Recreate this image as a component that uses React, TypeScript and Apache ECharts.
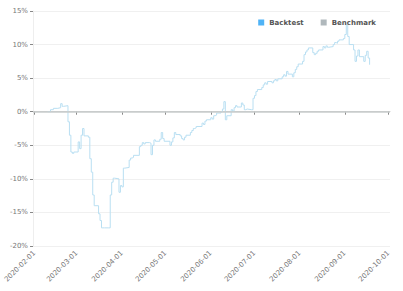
import React, { useEffect, useRef } from "react";
import * as echarts from "echarts";

const dates: string[] = [
  "2020-02-10","2020-02-12","2020-02-14","2020-02-17","2020-02-19","2020-02-20","2020-02-21",
  "2020-02-24","2020-02-25","2020-02-26","2020-02-27","2020-02-28",
  "2020-03-02","2020-03-03","2020-03-04","2020-03-05","2020-03-06",
  "2020-03-09","2020-03-10","2020-03-11","2020-03-12","2020-03-13",
  "2020-03-16","2020-03-17","2020-03-18","2020-03-19","2020-03-20",
  "2020-03-23","2020-03-24","2020-03-25","2020-03-26","2020-03-27",
  "2020-03-30","2020-03-31","2020-04-01","2020-04-02","2020-04-03",
  "2020-04-06","2020-04-07","2020-04-08","2020-04-09",
  "2020-04-13","2020-04-14","2020-04-15","2020-04-16","2020-04-17",
  "2020-04-20","2020-04-21","2020-04-22","2020-04-23","2020-04-24",
  "2020-04-27","2020-04-28","2020-04-29","2020-04-30",
  "2020-05-04","2020-05-05","2020-05-06","2020-05-07","2020-05-08",
  "2020-05-11","2020-05-12","2020-05-13","2020-05-14","2020-05-15",
  "2020-05-18","2020-05-19","2020-05-20","2020-05-21","2020-05-22",
  "2020-05-26","2020-05-27","2020-05-28","2020-05-29",
  "2020-06-01","2020-06-02","2020-06-03","2020-06-04","2020-06-05",
  "2020-06-08","2020-06-09","2020-06-10","2020-06-11","2020-06-12",
  "2020-06-15","2020-06-16","2020-06-17","2020-06-18","2020-06-19",
  "2020-06-22","2020-06-23","2020-06-24","2020-06-25","2020-06-26",
  "2020-06-29","2020-06-30","2020-07-01","2020-07-02","2020-07-03",
  "2020-07-06","2020-07-07","2020-07-08","2020-07-09","2020-07-10",
  "2020-07-13","2020-07-14","2020-07-15","2020-07-16","2020-07-17",
  "2020-07-20","2020-07-21","2020-07-22","2020-07-23","2020-07-24",
  "2020-07-27","2020-07-28","2020-07-29","2020-07-30","2020-07-31",
  "2020-08-03","2020-08-04","2020-08-05","2020-08-06","2020-08-07",
  "2020-08-10","2020-08-11","2020-08-12","2020-08-13","2020-08-14",
  "2020-08-17","2020-08-18","2020-08-19","2020-08-20","2020-08-21",
  "2020-08-24","2020-08-25","2020-08-26","2020-08-27","2020-08-28",
  "2020-08-31","2020-09-01","2020-09-02","2020-09-03","2020-09-04",
  "2020-09-07","2020-09-08","2020-09-09","2020-09-10","2020-09-11",
  "2020-09-14","2020-09-15","2020-09-16","2020-09-17","2020-09-18"
];

const backtest: number[] = [
  0.0, 0.3, 0.5, 0.6, 1.2, 0.8, 0.9,
  -1.5, -3.5, -6.0, -6.2, -6.0,
  -4.5, -5.5, -3.5, -2.5, -3.6,
  -3.8, -7.0, -9.0, -12.4, -14.0,
  -15.2, -16.2, -17.3, -17.3, -17.3,
  -17.3, -12.4, -10.5, -9.9, -10.0,
  -12.0, -11.0, -11.2, -8.4, -8.3,
  -7.2, -6.9, -6.8, -6.5,
  -5.2, -5.0, -4.6, -4.8, -4.6,
  -4.7, -6.4, -5.0, -4.2, -4.4,
  -4.1, -3.1, -4.0, -4.4,
  -5.0, -4.5, -3.9, -3.1, -3.4,
  -3.6, -4.0, -4.2, -3.8, -3.5,
  -3.1, -2.8, -2.5, -2.4, -2.2,
  -1.7, -1.9, -1.4, -1.2,
  -0.9, -1.1, -0.6, -0.5, -0.2,
  0.0, 0.4, 1.5, -1.2, -0.6,
  0.3, 0.1, 0.6, 0.9, 0.7,
  1.3, 1.0, 0.3, 0.4, 0.3,
  0.3, 2.0, 2.4, 3.0, 3.3,
  3.6, 4.0, 4.3, 4.1, 4.5,
  4.3, 4.6, 4.8, 4.6, 4.9,
  5.2, 5.5, 5.3, 6.0, 5.6,
  5.2, 5.8, 6.3, 6.7, 7.1,
  7.5, 8.5, 8.9, 9.2, 9.5,
  8.8, 8.5, 8.7, 9.0, 9.2,
  9.7, 9.5, 9.8, 9.6, 9.7,
  10.0, 10.3, 10.2, 10.5, 10.7,
  10.9, 11.5, 13.0, 11.2, 10.0,
  9.2, 7.5, 8.3, 9.2, 8.2,
  7.5, 8.4, 9.0, 8.0, 7.0
];

const yTicks: number[] = [-20, -15, -10, -5, 0, 5, 10, 15];

export default function App() {
  const ref = useRef<HTMLDivElement>(null);
  useEffect(() => {
    if (!ref.current) return;
    const chart = echarts.init(ref.current, null, { renderer: "svg" });
    const textColor = "#777";
    chart.setOption({
      animation: false,
      textStyle: { fontFamily: "DejaVu Sans" },
      legend: {
        right: 22,
        top: 14,
        itemWidth: 6,
        itemHeight: 6,
        itemGap: 17,
        icon: "rect",
        textStyle: { fontSize: 7, color: "#555", fontWeight: "bold" },
        data: ["Backtest", "Benchmark"],
      },
      grid: { left: 33, right: 13, top: 11, bottom: 45, containLabel: false },
      xAxis: {
        type: "time",
        min: "2020-01-31",
        max: "2020-10-02",
        minInterval: 28 * 24 * 3600 * 1000,
        maxInterval: 31 * 24 * 3600 * 1000,
        axisLine: { show: true, lineStyle: { color: "#ccc" } },
        axisTick: { show: true, length: 3, lineStyle: { color: "#888" } },
        splitLine: { show: false },
        axisLabel: {
          rotate: 45,
          fontSize: 7,
          color: textColor,
          margin: 6,
          formatter: "{yyyy}-{MM}-{dd}",
          hideOverlap: false,
        },
      },
      yAxis: {
        type: "value",
        min: yTicks[0],
        max: yTicks[yTicks.length - 1],
        interval: 5,
        axisLine: { show: true, lineStyle: { color: "#eee" } },
        axisTick: { show: true, length: 3, lineStyle: { color: "#888" } },
        splitLine: { show: true, lineStyle: { color: "#f0f0f0" } },
        axisLabel: { fontSize: 7, color: textColor, margin: 5, formatter: "{value}%" },
      },
      series: [
        {
          name: "Backtest",
          type: "line",
          step: "end",
          showSymbol: false,
          color: "#4fb3f6",
          lineStyle: { width: 1, color: "#b9dff2" },
          data: dates.map((d, i) => [d, backtest[i]]),
          z: 3,
        },
        {
          name: "Benchmark",
          type: "line",
          showSymbol: false,
          color: "#b0b8bc",
          data: [],
          markLine: {
            silent: true,
            symbol: "none",
            label: { show: false },
            lineStyle: { color: "#c8cccc", width: 1.5, type: "solid" },
            data: [{ yAxis: 0 }],
          },
          z: 2,
        },
      ],
    });
    return () => chart.dispose();
  }, []);
  return (
    <div
      ref={ref}
      style={{ position: "absolute", left: 0, top: 0, width: 403, height: 291 }}
    />
  );
}
